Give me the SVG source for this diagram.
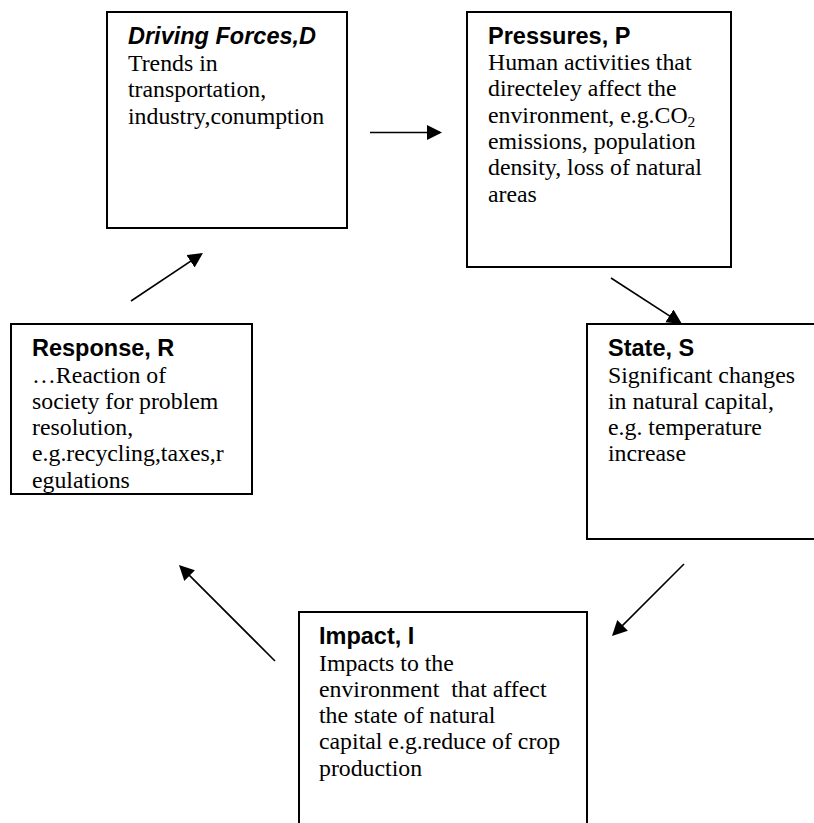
<svg xmlns="http://www.w3.org/2000/svg" width="814" height="823" viewBox="0 0 814 823">
  <style>
    .box { fill: #ffffff; stroke: #000000; stroke-width: 2; }
    .title { font-family: "Liberation Sans", Arial, sans-serif; font-weight: bold; font-size: 23.5px; fill: #000; }
    .body { font-family: "Liberation Serif", "Times New Roman", serif; font-size: 23.8px; fill: #000; }
    .conn { stroke: #000; stroke-width: 1.6; fill: none; marker-end: url(#arrow); }
  </style>
  <defs>
    <marker id="arrow" markerUnits="userSpaceOnUse" markerWidth="16" markerHeight="16" refX="13" refY="7.5" orient="auto">
      <path d="M0,0 L15,7.5 L0,15 z" fill="#000"/>
    </marker>
  </defs>
  <rect width="814" height="823" fill="#ffffff"/>

  <g id="node-driving-forces">
    <rect class="box" x="107" y="12" width="240" height="216"/>
    <text class="title" x="128" y="44" font-style="italic">Driving Forces,D</text>
    <text class="body" x="128" y="70.5">Trends in</text>
    <text class="body" x="128" y="97">transportation,</text>
    <text class="body" x="128" y="123.5">industry,conumption</text>
  </g>

  <g id="node-pressures">
    <rect class="box" x="467" y="12" width="264" height="255"/>
    <text class="title" x="488" y="44">Pressures, P</text>
    <text class="body" x="488" y="70">Human activities that</text>
    <text class="body" x="488" y="96.3">directeley affect the</text>
    <text class="body" x="488" y="122.6">environment, e.g.CO<tspan font-size="15.5" dy="4">2</tspan></text>
    <text class="body" x="488" y="148.9">emissions, population</text>
    <text class="body" x="488" y="175.2">density, loss of natural</text>
    <text class="body" x="488" y="201.5">areas</text>
  </g>

  <g id="node-state">
    <rect class="box" x="587" y="324" width="240" height="215"/>
    <text class="title" x="608" y="356">State, S</text>
    <text class="body" x="608" y="382.5">Significant changes</text>
    <text class="body" x="608" y="408.8">in natural capital,</text>
    <text class="body" x="608" y="435.1">e.g. temperature</text>
    <text class="body" x="608" y="461.4">increase</text>
  </g>

  <g id="node-impact">
    <rect class="box" x="299" y="612" width="288" height="230"/>
    <text class="title" x="319" y="644">Impact, I</text>
    <text class="body" x="319" y="670.5">Impacts to the</text>
    <text class="body" x="319" y="696.8" xml:space="preserve">environment  that affect</text>
    <text class="body" x="319" y="723.1">the state of natural</text>
    <text class="body" x="319" y="749.4">capital e.g.reduce of crop</text>
    <text class="body" x="319" y="775.7">production</text>
  </g>

  <g id="node-response">
    <rect class="box" x="11" y="324" width="241" height="170"/>
    <text class="title" x="32" y="356">Response, R</text>
    <text class="body" x="32" y="382.5">…Reaction of</text>
    <text class="body" x="32" y="408.8">society for problem</text>
    <text class="body" x="32" y="435.1">resolution,</text>
    <text class="body" x="32" y="461.4">e.g.recycling,taxes,r</text>
    <text class="body" x="32" y="487.7">egulations</text>
  </g>

  <g id="connectors">
    <line class="conn" x1="370" y1="132.5" x2="440" y2="132.5"/>
    <line class="conn" x1="611" y1="278" x2="680.3" y2="322.9"/>
    <line class="conn" x1="684" y1="564" x2="613.4" y2="634.6"/>
    <line class="conn" x1="275" y1="661" x2="180.4" y2="566.4"/>
    <line class="conn" x1="131" y1="301" x2="201.3" y2="254.1"/>
  </g>
</svg>
